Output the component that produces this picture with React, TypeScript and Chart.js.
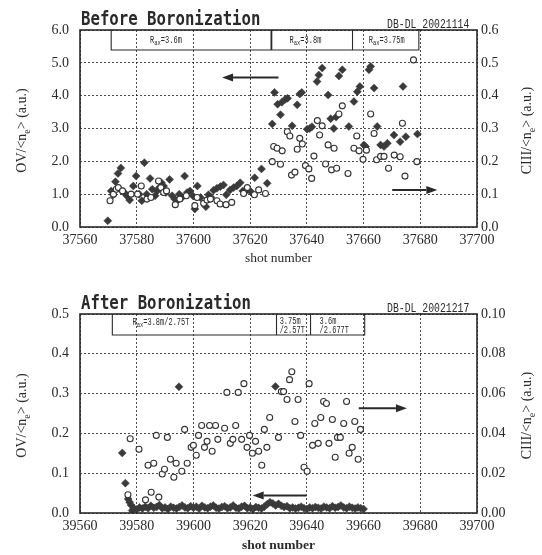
import React, { useEffect, useRef } from "react";
import { Chart, registerables } from "chart.js";

Chart.register(...registerables);

// ---------------- DATA ----------------
// Before Boronization: OV/<ne> (left axis, filled diamonds)
const topOV: [number, number][] = [
  [37569.8, 0.19], [37571.0, 1.1], [37571.7, 0.98], [37572.5, 1.38], [37573.4, 1.63],
  [37574.4, 1.8], [37575.6, 1.05], [37576.5, 0.95], [37577.5, 0.82], [37578.8, 1.25],
  [37579.8, 1.55], [37580.9, 1.0], [37581.8, 0.8], [37582.7, 1.96], [37583.5, 1.0],
  [37584.7, 1.48], [37585.5, 1.15], [37586.5, 0.95], [37587.2, 1.1], [37588.0, 1.2],
  [37588.7, 1.35], [37589.5, 1.25], [37590.3, 1.05], [37591.6, 1.45], [37592.5, 0.95],
  [37593.4, 0.85], [37594.2, 0.8], [37595.0, 1.0], [37596.0, 0.9], [37596.9, 1.55],
  [37597.8, 1.05], [37598.8, 1.1], [37599.8, 0.95], [37600.5, 0.55], [37601.4, 1.25],
  [37602.5, 0.9], [37604.4, 0.62], [37605.3, 0.98], [37606.2, 0.9], [37607.1, 1.12],
  [37608.3, 1.18], [37609.5, 1.23], [37610.6, 1.28], [37611.6, 0.98], [37612.9, 1.13],
  [37614.2, 1.2], [37615.3, 1.25], [37616.5, 1.35], [37617.4, 1.1], [37618.9, 1.13],
  [37620.2, 1.08], [37621.6, 1.5], [37624.0, 1.77], [37626.0, 1.33], [37627.8, 3.14],
  [37628.6, 4.1], [37629.7, 3.74], [37630.7, 3.42], [37631.2, 3.8], [37632.4, 3.89],
  [37633.2, 3.92], [37634.8, 3.08], [37636.6, 3.72], [37637.5, 4.05], [37638.2, 4.1],
  [37640.1, 2.98], [37641.0, 3.0], [37641.8, 3.05], [37643.6, 4.43], [37644.2, 4.63],
  [37645.4, 4.84], [37647.5, 4.02], [37648.4, 3.3], [37649.5, 3.0], [37650.3, 3.35],
  [37651.3, 4.6], [37652.5, 4.79], [37654.8, 3.06], [37656.6, 3.82], [37657.8, 4.12],
  [37658.7, 4.28], [37660.1, 2.5], [37660.7, 2.45], [37661.9, 4.79], [37662.5, 4.89],
  [37663.7, 4.23], [37664.8, 3.06], [37666.0, 2.5], [37667.2, 2.45], [37668.4, 2.55],
  [37670.7, 2.8], [37672.9, 2.6], [37673.9, 4.28], [37674.9, 2.75], [37679.0, 2.83],
];

// Before Boronization: CIII/<ne> (right axis, open circles)
const topCIII: [number, number][] = [
  [37570.6, 0.08], [37571.8, 0.1], [37572.8, 0.115], [37573.5, 0.12], [37575.0, 0.11],
  [37578.0, 0.1], [37580.3, 0.1], [37581.6, 0.125], [37583.6, 0.085], [37585.0, 0.09],
  [37587.7, 0.14], [37588.5, 0.12], [37589.5, 0.105], [37590.5, 0.11], [37593.6, 0.068],
  [37595.2, 0.085], [37597.5, 0.095], [37600.5, 0.065], [37601.3, 0.09], [37603.6, 0.072],
  [37604.8, 0.082], [37606.0, 0.085], [37608.3, 0.08], [37609.4, 0.07], [37611.5, 0.068],
  [37613.5, 0.075], [37617.7, 0.102], [37619.0, 0.12], [37621.5, 0.098], [37623.0, 0.113],
  [37625.4, 0.102], [37627.8, 0.199], [37628.3, 0.245], [37629.5, 0.24], [37630.7, 0.191],
  [37631.3, 0.232], [37633.1, 0.29], [37634.0, 0.277], [37634.6, 0.158], [37635.8, 0.167],
  [37636.6, 0.237], [37637.5, 0.27], [37638.4, 0.253], [37639.5, 0.187], [37640.7, 0.177],
  [37641.7, 0.148], [37642.5, 0.216], [37643.7, 0.324], [37644.5, 0.28], [37645.4, 0.308],
  [37646.6, 0.192], [37647.5, 0.25], [37648.7, 0.174], [37649.6, 0.24], [37650.5, 0.179],
  [37651.3, 0.344], [37652.5, 0.369], [37654.5, 0.163], [37656.6, 0.24], [37657.6, 0.277],
  [37658.4, 0.232], [37659.8, 0.206], [37661.0, 0.234], [37662.5, 0.344], [37663.7, 0.285],
  [37664.6, 0.205], [37666.0, 0.215], [37667.2, 0.215], [37668.8, 0.179], [37670.8, 0.219],
  [37672.9, 0.214], [37673.7, 0.316], [37674.6, 0.155], [37677.6, 0.509], [37678.8, 0.199],
];

// After Boronization: OV/<ne> (left axis, filled diamonds)
const bottomOV: [number, number][] = [
  [39574.9, 0.151], [39576.0, 0.075], [39577.0, 0.035], [39577.5, 0.027], [39578.0, 0.02],
  [39578.4, 0.006], [39579, 0.012], [39580, 0.009], [39581, 0.014], [39582, 0.011],
  [39583, 0.016], [39584, 0.012], [39585, 0.018], [39586, 0.013], [39587, 0.015],
  [39588, 0.02], [39589, 0.012], [39590, 0.014], [39591, 0.01], [39592, 0.016],
  [39593, 0.013], [39594, 0.011], [39594.9, 0.317], [39595, 0.015], [39596, 0.019],
  [39597, 0.014], [39598, 0.012], [39599, 0.017], [39600, 0.013], [39601, 0.016],
  [39602, 0.011], [39603, 0.018], [39604, 0.014], [39605, 0.012], [39606, 0.016],
  [39607, 0.019], [39608, 0.013], [39609, 0.011], [39610, 0.015], [39611, 0.017],
  [39612, 0.012], [39613, 0.014], [39614, 0.019], [39615, 0.013], [39616, 0.011],
  [39617, 0.016], [39618, 0.018], [39619, 0.012], [39620, 0.014], [39621, 0.01],
  [39622, 0.015], [39623, 0.013], [39624, 0.011], [39625, 0.016], [39626, 0.022],
  [39627, 0.027], [39628, 0.024], [39628.9, 0.318], [39629, 0.019], [39630, 0.023],
  [39631, 0.018], [39632, 0.015], [39633, 0.017], [39634, 0.012], [39635, 0.014],
  [39636, 0.011], [39637, 0.013], [39638, 0.016], [39639, 0.012], [39640, 0.01],
  [39641, 0.014], [39642, 0.012], [39643, 0.015], [39644, 0.013], [39645, 0.011],
  [39646, 0.016], [39647, 0.014], [39648, 0.012], [39649, 0.017], [39650, 0.013],
  [39651, 0.015], [39652, 0.019], [39653, 0.014], [39654, 0.012], [39655, 0.016],
  [39656, 0.013], [39657, 0.011], [39658, 0.014], [39659, 0.012], [39660, 0.01],
];

// After Boronization: CIII/<ne> (right axis, open circles)
const bottomCIII: [number, number][] = [
  [39576.9, 0.0092], [39577.7, 0.0373], [39580.8, 0.032], [39583.1, 0.0066], [39584.0, 0.024],
  [39585.1, 0.0104], [39586.0, 0.025], [39586.9, 0.039], [39587.8, 0.008], [39589.0, 0.0196],
  [39589.8, 0.022], [39590.8, 0.038], [39591.9, 0.027], [39593.1, 0.018], [39593.9, 0.025],
  [39595.9, 0.021], [39596.9, 0.042], [39597.8, 0.025], [39599.2, 0.033], [39600.0, 0.034],
  [39601.0, 0.029], [39601.8, 0.039], [39602.9, 0.044], [39603.9, 0.033], [39604.8, 0.036],
  [39605.7, 0.044], [39606.6, 0.031], [39607.8, 0.044], [39608.6, 0.037], [39611.0, 0.0426],
  [39611.8, 0.0606], [39613.0, 0.035], [39613.9, 0.037], [39614.9, 0.044], [39615.8, 0.0606],
  [39617.0, 0.037], [39617.8, 0.065], [39618.9, 0.033], [39619.8, 0.039], [39620.8, 0.03],
  [39621.9, 0.036], [39623.0, 0.031], [39624.1, 0.024], [39625.0, 0.042], [39625.9, 0.033],
  [39626.9, 0.048], [39630.0, 0.038], [39631.0, 0.061], [39631.8, 0.061], [39633.0, 0.057],
  [39633.9, 0.067], [39634.7, 0.071], [39635.8, 0.046], [39636.9, 0.057], [39637.8, 0.039],
  [39639.0, 0.023], [39640.1, 0.021], [39640.8, 0.065], [39642.0, 0.034], [39642.8, 0.045],
  [39644.0, 0.035], [39644.9, 0.048], [39645.9, 0.056], [39646.9, 0.055], [39647.8, 0.035],
  [39649.0, 0.047], [39650.0, 0.028], [39650.8, 0.038], [39651.8, 0.038], [39653.0, 0.045],
  [39654.0, 0.056], [39654.9, 0.03], [39656.0, 0.033], [39656.9, 0.046], [39658.1, 0.027],
  [39658.9, 0.042],
];

// Axis ranges / tick settings
const topShotRange = [37560, 37700];
const bottomShotRange = [39560, 39700];
const shotStep = 20;
const topOvAxis = [0, 6, 1];
const topCiiiAxis = [0, 0.6, 0.1];
const bottomOvAxis = [0, 0.5, 0.1];
const bottomCiiiAxis = [0, 0.1, 0.02];

// Experiment condition boxes (region edges in shot number)
const topRegionEdges = [37571.0, 37627.5, 37656.1, 37679.5];
const bottomRegionEdges = [39571.4, 39629.3, 39641.3, 39660.4];

// ---------------- STYLE / DRAWING ----------------
type Part = { t: string; sub?: boolean };
type BoxLabel = { at: number; dy: number; parts: Part[] };
type Arrow = { from: number; to: number; y: number };

interface PanelCfg {
  title: string;
  code: string;
  W: number;
  H: number;
  areaTop: number;
  areaBottom: number;
  xRange: number[];
  ovAxis: number[];
  ciiiAxis: number[];
  ovDigits: number;
  ciiiDigits: number;
  ov: [number, number][];
  ciii: [number, number][];
  edges: number[];
  boxH: number;
  thickDivider: number;
  labels: BoxLabel[];
  arrows: Arrow[];
  xTitleY: number;
  xTitleBold: boolean;
}

const SERIF = '"Liberation Serif", "Times New Roman", serif';
const MONO = '"Liberation Mono", "DejaVu Sans Mono", monospace';
const INK = "#2a2a2a";

function stretchText(ctx: CanvasRenderingContext2D, text: string, x: number, y: number, font: string, sy: number) {
  ctx.save();
  ctx.font = font;
  ctx.textAlign = "left";
  ctx.textBaseline = "alphabetic";
  ctx.translate(x, y);
  ctx.scale(1, sy);
  ctx.fillText(text, 0, 0);
  ctx.restore();
}

function drawParts(ctx: CanvasRenderingContext2D, parts: Part[], x: number, y: number) {
  let cx = x;
  for (const p of parts) {
    const size = p.sub ? 5.5 : 7;
    const font = `${size}px ${MONO}`;
    ctx.font = font;
    const w = ctx.measureText(p.t).width;
    stretchText(ctx, p.t, cx, p.sub ? y + 2 : y, font, 1.45);
    cx += w;
  }
}

function drawVTitle(ctx: CanvasRenderingContext2D, cx: number, cy: number, parts: Part[]) {
  ctx.save();
  ctx.translate(cx, cy);
  ctx.rotate(-Math.PI / 2);
  ctx.textBaseline = "middle";
  ctx.textAlign = "left";
  let total = 0;
  for (const p of parts) {
    ctx.font = `${p.sub ? 10 : 14}px ${SERIF}`;
    total += ctx.measureText(p.t).width;
  }
  let x = -total / 2;
  for (const p of parts) {
    ctx.font = `${p.sub ? 10 : 14}px ${SERIF}`;
    ctx.fillText(p.t, x, p.sub ? 5 : 0);
    x += ctx.measureText(p.t).width;
  }
  ctx.restore();
}

function arrow(ctx: CanvasRenderingContext2D, x1: number, x2: number, y: number) {
  const dir = x2 > x1 ? 1 : -1;
  const head = 11;
  ctx.beginPath();
  ctx.moveTo(x1, y);
  ctx.lineTo(x2 - dir * head, y);
  ctx.lineWidth = 2;
  ctx.stroke();
  ctx.beginPath();
  ctx.moveTo(x2, y);
  ctx.lineTo(x2 - dir * head, y - 4);
  ctx.lineTo(x2 - dir * head, y + 4);
  ctx.closePath();
  ctx.fill();
}

function decorPlugin(cfg: PanelCfg) {
  return {
    id: "decor",
    afterDraw(chart: any) {
      const ctx: CanvasRenderingContext2D = chart.ctx;
      const { left, right, top, bottom } = chart.chartArea;
      const xs = chart.scales.x;
      const ys = chart.scales.y;
      ctx.save();
      ctx.fillStyle = INK;
      ctx.strokeStyle = INK;

      // frame
      ctx.lineWidth = 1.6;
      ctx.strokeRect(left, top, right - left, bottom - top);

      // condition box
      const bx = cfg.edges.map((v) => xs.getPixelForValue(v));
      ctx.lineWidth = 1.1;
      ctx.beginPath();
      ctx.moveTo(bx[0], top);
      ctx.lineTo(bx[0], top + cfg.boxH);
      ctx.lineTo(bx[bx.length - 1], top + cfg.boxH);
      ctx.lineTo(bx[bx.length - 1], top);
      ctx.stroke();
      for (let i = 1; i < bx.length - 1; i++) {
        ctx.lineWidth = i === cfg.thickDivider ? 1.8 : 1.1;
        ctx.beginPath();
        ctx.moveTo(bx[i], top);
        ctx.lineTo(bx[i], top + cfg.boxH);
        ctx.stroke();
      }
      for (const lb of cfg.labels) {
        drawParts(ctx, lb.parts, xs.getPixelForValue(lb.at), top + lb.dy);
      }

      // arrows
      for (const a of cfg.arrows) {
        arrow(ctx, xs.getPixelForValue(a.from), xs.getPixelForValue(a.to), ys.getPixelForValue(a.y));
      }

      // panel title
      stretchText(ctx, cfg.title, 81, top - 5, `bold 15.7px "DejaVu Sans Mono", monospace`, 1.2);
      // shot code
      stretchText(ctx, cfg.code, 387, top - 2.5, `9.8px ${MONO}`, 1.3);

      // axis titles
      const cy = (top + bottom) / 2;
      drawVTitle(ctx, 22, cy + 2, [{ t: "OV/<n" }, { t: "e", sub: true }, { t: "> (a.u.)" }]);
      drawVTitle(ctx, 527, cy + 2, [{ t: "CIII/<n" }, { t: "e", sub: true }, { t: "> (a.u.)" }]);

      ctx.font = `${cfg.xTitleBold ? "bold " : ""}13.5px ${SERIF}`;
      ctx.textAlign = "center";
      ctx.textBaseline = "middle";
      ctx.fillText("shot number", (left + right) / 2, cfg.xTitleY);
      ctx.restore();
    },
  };
}

function Panel({ cfg, top }: { cfg: PanelCfg; top: number }) {
  const ref = useRef<HTMLCanvasElement>(null);
  useEffect(() => {
    if (!ref.current) return;
    const tickFont = { family: SERIF, size: 14 };
    const gridColor = "rgba(30,30,30,0.8)";
    const chart = new Chart(ref.current, {
      type: "scatter",
      data: {
        datasets: [
          {
            label: "CIII",
            data: cfg.ciii.map(([x, y]) => ({ x, y })),
            yAxisID: "y1",
            pointStyle: "circle",
            pointRadius: 3,
            backgroundColor: "#ffffff",
            borderColor: "#333333",
            borderWidth: 1.1,
            order: 0,
          },
          {
            label: "OV",
            data: cfg.ov.map(([x, y]) => ({ x, y })),
            yAxisID: "y",
            pointStyle: "rectRot",
            pointRadius: 4,
            backgroundColor: "#3a3a3a",
            borderColor: "#3a3a3a",
            borderWidth: 0.5,
            order: 1,
          },
        ],
      },
      options: {
        animation: false,
        responsive: false,
        devicePixelRatio: 1,
        events: [],
        layout: { padding: { top: cfg.areaTop, left: 0, right: 0, bottom: 0 }, autoPadding: false },
        plugins: { legend: { display: false }, tooltip: { enabled: false }, title: { display: false } },
        scales: {
          x: {
            type: "linear",
            min: cfg.xRange[0],
            max: cfg.xRange[1],
            ticks: {
              stepSize: shotStep,
              autoSkip: false,
              maxRotation: 0,
              padding: 5,
              font: tickFont,
              color: INK,
              callback: (v: any) => String(v),
            },
            grid: { color: gridColor, lineWidth: 1, drawTicks: false },
            border: { display: false, dash: [2, 2] },
            afterFit: (s: any) => {
              s.height = cfg.H - cfg.areaBottom;
            },
          },
          y: {
            type: "linear",
            position: "left",
            min: cfg.ovAxis[0],
            max: cfg.ovAxis[1],
            ticks: {
              stepSize: cfg.ovAxis[2],
              padding: 11,
              font: tickFont,
              color: INK,
              callback: (v: any) => Number(v).toFixed(cfg.ovDigits),
            },
            grid: { color: gridColor, lineWidth: 1, drawTicks: false },
            border: { display: false, dash: [2, 2] },
            afterFit: (s: any) => {
              s.width = 80;
            },
          },
          y1: {
            type: "linear",
            position: "right",
            min: cfg.ciiiAxis[0],
            max: cfg.ciiiAxis[1],
            ticks: {
              stepSize: cfg.ciiiAxis[2],
              padding: 4,
              font: tickFont,
              color: INK,
              callback: (v: any) => Number(v).toFixed(cfg.ciiiDigits),
            },
            grid: { display: false, drawTicks: false },
            border: { display: false },
            afterFit: (s: any) => {
              s.width = cfg.W - 477;
            },
          },
        },
      } as any,
      plugins: [decorPlugin(cfg)],
    });
    return () => chart.destroy();
  }, [cfg]);
  return (
    <canvas
      ref={ref}
      width={cfg.W}
      height={cfg.H}
      style={{ position: "absolute", left: 0, top, width: cfg.W, height: cfg.H }}
    />
  );
}

const topCfg: PanelCfg = {
  title: "Before Boronization",
  code: "DB-DL_20021114",
  W: 542,
  H: 278,
  areaTop: 30,
  areaBottom: 227,
  xRange: topShotRange,
  ovAxis: topOvAxis,
  ciiiAxis: topCiiiAxis,
  ovDigits: 1,
  ciiiDigits: 1,
  ov: topOV,
  ciii: topCIII,
  edges: topRegionEdges,
  boxH: 20,
  thickDivider: 1,
  labels: [
    { at: 37584.7, dy: 13, parts: [{ t: "R" }, { t: "ax", sub: true }, { t: "=3.6m" }] },
    { at: 37633.9, dy: 13, parts: [{ t: "R" }, { t: "ax", sub: true }, { t: "=3.8m" }] },
    { at: 37661.8, dy: 13, parts: [{ t: "R" }, { t: "ax", sub: true }, { t: "=3.75m" }] },
  ],
  arrows: [
    { from: 37630.0, to: 37610.1, y: 4.55 },
    { from: 37670.1, to: 37686.0, y: 1.13 },
  ],
  xTitleY: 258,
  xTitleBold: false,
};

const bottomCfg: PanelCfg = {
  title: "After Boronization",
  code: "DB-DL_20021217",
  W: 542,
  H: 277,
  areaTop: 36,
  areaBottom: 235,
  xRange: bottomShotRange,
  ovAxis: bottomOvAxis,
  ciiiAxis: bottomCiiiAxis,
  ovDigits: 1,
  ciiiDigits: 2,
  ov: bottomOV,
  ciii: bottomCIII,
  edges: bottomRegionEdges,
  boxH: 21,
  thickDivider: -1,
  labels: [
    { at: 39578.5, dy: 11, parts: [{ t: "R" }, { t: "ax", sub: true }, { t: "=3.8m/2.75T" }] },
    { at: 39630.4, dy: 9.5, parts: [{ t: "3.75m" }] },
    { at: 39630.4, dy: 19, parts: [{ t: "/2.57T" }] },
    { at: 39644.5, dy: 9.5, parts: [{ t: "3.6m" }] },
    { at: 39644.5, dy: 19, parts: [{ t: "/2.677T" }] },
  ],
  arrows: [
    { from: 39658.3, to: 39675.3, y: 0.263 },
    { from: 39639.9, to: 39620.9, y: 0.044 },
  ],
  xTitleY: 268,
  xTitleBold: true,
};

export default function App() {
  return (
    <div style={{ position: "absolute", left: 0, top: 0, width: 542, height: 555, background: "#ffffff" }}>
      <Panel cfg={topCfg} top={0} />
      <Panel cfg={bottomCfg} top={278} />
    </div>
  );
}
